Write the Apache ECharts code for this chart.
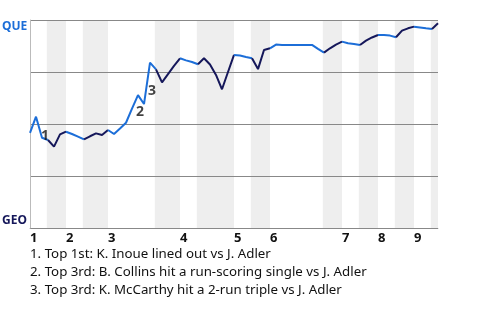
<!DOCTYPE html>
<html><head><meta charset="utf-8">
<script src="https://cdn.jsdelivr.net/npm/echarts@6/dist/echarts.min.js"></script>
<style>html,body{margin:0;padding:0;background:#fff}#c{width:480px;height:320px}</style>
</head><body><div id="c"></div>
<script>
// QUE win probability (%) after each plate appearance (index 0 = pregame)
const winProb = [45.7,53.5,43.4,42.3,39.1,45.0,46.3,45.2,43.9,42.6,44.1,45.5,44.7,47.1,45.2,47.8,50.6,57.4,63.9,59.6,
  79.5,76.3,70.0,74.0,77.9,81.6,80.6,79.8,78.7,81.6,78.6,73.6,66.7,75.0,83.2,82.9,82.2,81.6,76.4,85.6,
  86.4,88.2,88.0,88.0,88.0,88.0,88.0,88.0,86.1,84.3,86.4,88.2,89.6,88.8,88.5,88.0,90.1,91.6,92.8,92.8,
  92.5,91.7,94.9,96.0,96.8,96.4,96.0,95.7,98.4];
const inningStarts = [0,6,13,25,34,40,52,58,64];
const inningLabels = ['1','2','3','4','5','6','7','8','9'];
// shaded bottom halves (GEO batting), in play units
const bottomHalves = [[2.8,6],[8.8,13],[20.8,25],[27.8,34],[36.8,40],[48.8,52],[54.8,58],[60.8,64],[66.8,68]];
const annotPlays = [2,18,20];
const annotLabels = ['1','2','3'];
const notes = [
  '1. Top 1st: K. Inoue lined out vs J. Adler',
  '2. Top 3rd: B. Collins hit a run-scoring single vs J. Adler',
  '3. Top 3rd: K. McCarthy hit a 2-run triple vs J. Adler'
];
const teamTop = 'QUE', teamBottom = 'GEO';

const BLUE = '#1c6ed8', NAVY = '#15175a';
const FONT = 'Noto Sans';
const chart = echarts.init(document.getElementById('c'), null, {renderer: 'canvas'});
const annotOffsets = [[3,-2],[2,17],[2,28]];

// build colored segments: navy while GEO bats, blue while QUE bats
const segs = [];
let prev = 0;
bottomHalves.forEach(([a, b]) => {
  const s = Math.ceil(a), e = Math.min(Math.floor(b), winProb.length - 1);
  if (s > prev) segs.push({from: prev, to: s, color: BLUE});
  segs.push({from: s, to: e, color: NAVY});
  prev = e;
});
if (prev < winProb.length - 1) segs.push({from: prev, to: winProb.length - 1, color: BLUE});

const lineSeries = segs.map(sg => ({
  type: 'line', z: 3, symbol: 'none', silent: true,
  lineStyle: {width: 2, color: sg.color},
  data: winProb.slice(sg.from, sg.to + 1).map((v, k) => [sg.from + k, v])
}));

chart.setOption({
  animation: false,
  grid: {left: 30, right: 42, top: 20, bottom: 92, outerBoundsMode: 'none', containLabel: false},
  xAxis: {
    type: 'value', min: 0, max: winProb.length - 1,
    axisLine: {show: true, lineStyle: {color: '#bbb', width: 1}},
    axisTick: {show: false}, splitLine: {show: false},
    axisLabel: {
      customValues: inningStarts,
      formatter: v => inningLabels[inningStarts.indexOf(v)] || '',
      align: 'left', fontWeight: 'bold', color: '#111', fontSize: 13, fontFamily: FONT, margin: 4
    }
  },
  yAxis: {
    type: 'value', min: 0, max: 100, interval: 25, z: 2,
    axisLine: {show: true, lineStyle: {color: '#bbb', width: 1}},
    axisTick: {show: false},
    splitLine: {show: true, lineStyle: {color: '#888', width: 1}},
    axisLabel: {
      align: 'left', margin: 28,
      formatter: v => v === 100 ? '{q|' + teamTop + '}' : (v === 0 ? '{g|' + teamBottom + '}' : ''),
      rich: {
        q: {color: BLUE, fontWeight: 'bold', fontSize: 12, fontFamily: FONT, padding: [14, 0, 0, 0]},
        g: {color: NAVY, fontWeight: 'bold', fontSize: 12, fontFamily: FONT, padding: [0, 0, 14, 0]}
      }
    }
  },
  series: [
    {
      type: 'line', data: [], z: 1, silent: true,
      markArea: {silent: true, itemStyle: {color: '#eeeeee'},
        data: bottomHalves.map(([a, b]) => [{xAxis: a}, {xAxis: b}])}
    },
    ...lineSeries,
    {
      type: 'scatter', z: 4, symbolSize: 1, itemStyle: {color: 'rgba(0,0,0,0)'},
      data: annotPlays.map((p, k) => ({
        value: [p, winProb[p]],
        label: {show: true, formatter: annotLabels[k], position: 'inside', offset: annotOffsets[k],
          color: '#111', fontWeight: 'bold', fontSize: 14, fontFamily: FONT}
      }))
    }
  ],
  graphic: notes.map((t, k) => ({
    type: 'text', left: 30, top: 248 + k * 18,
    style: {text: t, font: '13.3px "' + FONT + '"', fill: '#111'}
  }))
});
</script></body></html>
